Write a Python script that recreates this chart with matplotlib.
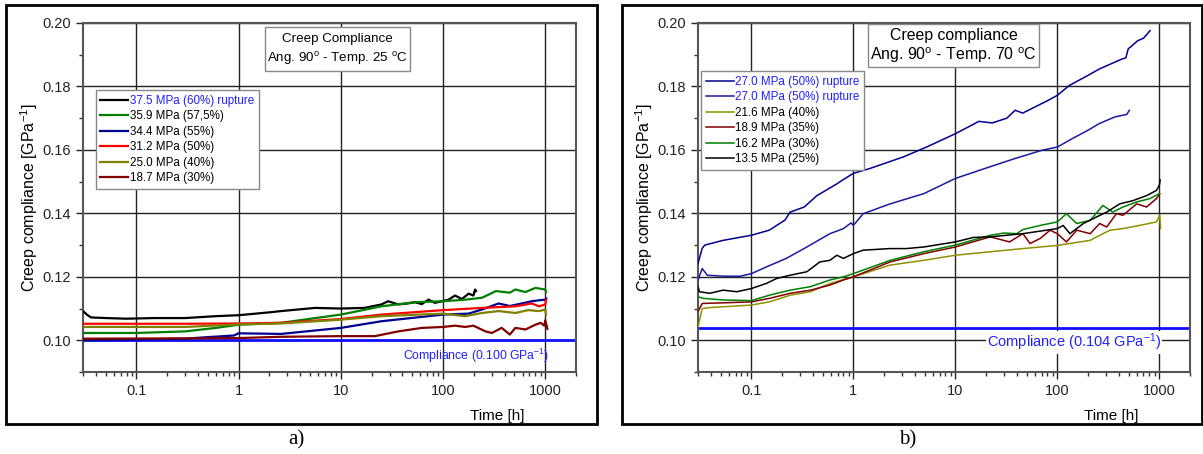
import matplotlib
matplotlib.use('Agg')
import matplotlib.pyplot as plt
from matplotlib.patches import Rectangle
from matplotlib.ticker import MultipleLocator, LogLocator, FixedLocator, NullFormatter

plt.rcParams['font.family'] = ['Liberation Sans', 'DejaVu Sans']
plt.rcParams['mathtext.fontset'] = 'custom'
plt.rcParams['mathtext.rm'] = 'Liberation Sans'
plt.rcParams['mathtext.it'] = 'Liberation Sans:italic'

# ---- panel a) 25 C ----
a_375_t = [0.03, 0.033, 0.036, 0.05, 0.08, 0.15, 0.3, 0.6, 1, 2, 2.6, 5.6, 10, 17, 25, 29, 36.5, 45, 53, 62, 72, 83, 95, 113, 131, 153, 178, 198, 206, 210]
a_375_c = [0.1092, 0.1080, 0.1072, 0.1070, 0.1068, 0.1070, 0.1070, 0.1076, 0.1079, 0.1088, 0.1092, 0.1102, 0.1100, 0.1102, 0.1113, 0.1123, 0.1113, 0.1116, 0.1120, 0.1114, 0.1128, 0.1118, 0.1122, 0.1128, 0.1141, 0.1130, 0.1147, 0.1141, 0.1160, 0.1155]
a_359_t = [0.03, 0.1, 0.3, 0.6, 1, 2.6, 10, 25, 53, 100, 165, 240, 330, 450, 510, 640, 800, 1000, 1020]
a_359_c = [0.1023, 0.1023, 0.1028, 0.1039, 0.1049, 0.1055, 0.1081, 0.1107, 0.1120, 0.1123, 0.1128, 0.1134, 0.1155, 0.1150, 0.1160, 0.1152, 0.1165, 0.1160, 0.1152]
a_344_t = [0.03, 0.3, 0.5, 0.9, 1, 2.6, 10, 25, 100, 178, 240, 350, 450, 590, 740, 870, 1000, 1020]
a_344_c = [0.1000, 0.1005, 0.1010, 0.1015, 0.1022, 0.1020, 0.1039, 0.1060, 0.1081, 0.1084, 0.1097, 0.1116, 0.1108, 0.1116, 0.1123, 0.1126, 0.1128, 0.1132]
a_312_t = [0.03, 0.3, 1, 2.6, 10, 25, 100, 240, 510, 740, 870, 1000, 1020]
a_312_c = [0.1052, 0.1052, 0.1053, 0.1055, 0.1067, 0.1081, 0.1095, 0.1102, 0.1107, 0.1116, 0.1107, 0.1113, 0.1128]
a_250_t = [0.03, 0.3, 1, 2.6, 10, 25, 100, 165, 240, 350, 510, 680, 870, 1000, 1020]
a_250_c = [0.1042, 0.1042, 0.1050, 0.1053, 0.1065, 0.1076, 0.1084, 0.1076, 0.1086, 0.1092, 0.1086, 0.1095, 0.1092, 0.1097, 0.1081]
a_187_t = [0.03, 0.3, 1, 2.6, 10, 21.5, 36.5, 62, 100, 131, 165, 198, 260, 300, 375, 450, 510, 640, 800, 900, 980, 1000, 1050]
a_187_c = [0.1005, 0.1006, 0.1007, 0.1011, 0.1013, 0.1013, 0.1028, 0.1039, 0.1042, 0.1046, 0.1042, 0.1046, 0.1028, 0.1023, 0.1039, 0.1018, 0.1039, 0.1034, 0.1049, 0.1055, 0.1046, 0.1063, 0.1036]
a_labels = ['37.5 MPa (60%) rupture', '35.9 MPa (57,5%)', '34.4 MPa (55%)',
            '31.2 MPa (50%)', '25.0 MPa (40%)', '18.7 MPa (30%)']
a_limit = 0.100

# ---- panel b) 70 C ----
b_270r1_t = [0.03, 0.033, 0.035, 0.053, 0.1, 0.15, 0.214, 0.24, 0.33, 0.44, 0.51, 0.69, 0.785, 1, 1.44, 3.1, 5.3, 10, 14.9, 17, 23, 32, 38.6, 45.8, 60, 80, 100, 131, 200, 258, 434, 470, 495, 613, 700, 813]
b_270r1_c = [0.1242, 0.1290, 0.1300, 0.1315, 0.1331, 0.1347, 0.1379, 0.1404, 0.1420, 0.1456, 0.1468, 0.1493, 0.1505, 0.1526, 0.1541, 0.1578, 0.1610, 0.1651, 0.1680, 0.1690, 0.1685, 0.1700, 0.1725, 0.1716, 0.1735, 0.1755, 0.1772, 0.1803, 0.1835, 0.1855, 0.1887, 0.1890, 0.1918, 0.1944, 0.1952, 0.1976]
b_270r2_t = [0.03, 0.033, 0.037, 0.053, 0.078, 0.1, 0.14, 0.22, 0.35, 0.59, 0.8, 0.95, 1, 1.25, 2.3, 4.9, 10, 19.3, 38.6, 71, 100, 141, 200, 258, 367, 480, 509]
b_270r2_c = [0.1190, 0.1226, 0.1205, 0.1202, 0.1202, 0.1210, 0.1231, 0.1258, 0.1294, 0.1336, 0.1352, 0.1370, 0.1362, 0.1399, 0.1430, 0.1462, 0.1510, 0.1541, 0.1573, 0.1599, 0.1609, 0.1636, 0.1662, 0.1683, 0.1704, 0.1712, 0.1725]
b_216_t = [0.03, 0.033, 0.039, 0.1, 0.15, 0.24, 0.38, 0.59, 1, 2.3, 4.9, 10, 22, 46, 100, 210, 280, 330, 440, 640, 935, 1010, 1030]
b_216_c = [0.1043, 0.1100, 0.1103, 0.1111, 0.1121, 0.1142, 0.1153, 0.1179, 0.1200, 0.1237, 0.1252, 0.1268, 0.1279, 0.1289, 0.1299, 0.1315, 0.1336, 0.1347, 0.1352, 0.1362, 0.1373, 0.1394, 0.1352]
b_189_t = [0.03, 0.033, 0.053, 0.1, 0.15, 0.24, 0.38, 0.59, 0.8, 1, 2.3, 4.9, 10, 22, 34, 46, 54, 68, 85, 100, 123, 155, 210, 260, 305, 380, 440, 600, 750, 935, 1010]
b_189_c = [0.1090, 0.1116, 0.1118, 0.1121, 0.1132, 0.1148, 0.1158, 0.1174, 0.1190, 0.1200, 0.1247, 0.1273, 0.1294, 0.1326, 0.1310, 0.1336, 0.1305, 0.1321, 0.1347, 0.1336, 0.1310, 0.1347, 0.1336, 0.1368, 0.1357, 0.1399, 0.1394, 0.1430, 0.1420, 0.1446, 0.1462]
b_162_t = [0.03, 0.034, 0.053, 0.1, 0.15, 0.24, 0.38, 0.59, 0.8, 1, 2.3, 4.9, 10, 22, 30, 40, 46, 68, 100, 123, 155, 210, 280, 350, 440, 600, 800, 1000]
b_162_c = [0.1137, 0.1132, 0.1127, 0.1125, 0.1142, 0.1158, 0.1169, 0.1190, 0.1200, 0.1210, 0.1252, 0.1279, 0.1300, 0.1331, 0.1338, 0.1336, 0.1349, 0.1362, 0.1373, 0.1399, 0.1368, 0.1378, 0.1425, 0.1404, 0.1420, 0.1436, 0.1446, 0.1462]
b_135_t = [0.03, 0.031, 0.039, 0.053, 0.072, 0.1, 0.14, 0.178, 0.24, 0.35, 0.47, 0.59, 0.69, 0.8, 1, 1.25, 2.29, 3.3, 4.9, 10, 15, 22, 46, 100, 114, 133, 180, 240, 305, 410, 550, 750, 935, 1000, 1020]
b_135_c = [0.1169, 0.1153, 0.1148, 0.1158, 0.1153, 0.1163, 0.1179, 0.1195, 0.1205, 0.1216, 0.1247, 0.1252, 0.1268, 0.1258, 0.1273, 0.1284, 0.1289, 0.1289, 0.1294, 0.1310, 0.1324, 0.1326, 0.1336, 0.1352, 0.1362, 0.1336, 0.1368, 0.1388, 0.1404, 0.1430, 0.1440, 0.1456, 0.1472, 0.1488, 0.1505]
b_labels = ['27.0 MPa (50%) rupture', '27.0 MPa (50%) rupture', '21.6 MPa (40%)',
            '18.9 MPa (35%)', '16.2 MPa (30%)', '13.5 MPa (25%)']
b_limit = 0.104

fig = plt.figure(figsize=(12.03, 4.54), dpi=100)


def setup_axes(ax):
  ax.set_xscale('log')
  ax.set_xlim(0.03, 2000)
  ax.set_ylim(0.09, 0.20)
  ax.xaxis.set_major_locator(FixedLocator([0.1, 1, 10, 100, 1000]))
  ax.set_xticklabels(['0.1', '1', '10', '100', '1000'])
  ax.xaxis.set_minor_locator(LogLocator(base=10, subs=range(2, 10)))
  ax.xaxis.set_minor_formatter(NullFormatter())
  ax.yaxis.set_major_locator(FixedLocator([0.10, 0.12, 0.14, 0.16, 0.18, 0.20]))
  ax.set_yticklabels(['0.10', '0.12', '0.14', '0.16', '0.18', '0.20'])
  ax.yaxis.set_minor_locator(MultipleLocator(0.01))
  ax.tick_params(which='major', direction='out', length=5, width=1, labelsize=10.5, colors='#222222')
  ax.tick_params(which='minor', direction='out', length=3, width=1, colors='#333333')
  ax.grid(True, which='major', color='#222222', lw=1)
  for s in ax.spines.values():
    s.set_color('#555555')
    s.set_linewidth(1.5)
  ax.set_ylabel('Creep compliance [GPa$^{-1}$]', fontsize=11.5, labelpad=2)
  ax.set_xlabel('Time [h]', fontsize=11, x=0.84, labelpad=8)


def info_box(ax, x0, x1, y0, y1, line1, line2, fs):
  ax.add_patch(Rectangle((x0, y0), x1 - x0, y1 - y0, transform=ax.transAxes,
                         facecolor='white', edgecolor='#888888', lw=1, zorder=5))
  xc = (x0 + x1) / 2
  h = y1 - y0
  ax.text(xc, y1 - 0.27 * h, line1, transform=ax.transAxes, ha='center', va='center', fontsize=fs, zorder=6)
  ax.text(xc, y0 + 0.28 * h, line2, transform=ax.transAxes, ha='center', va='center', fontsize=fs, zorder=6)


# panel a
ax1 = fig.add_axes([83/1203, 1-372/454, 493/1203, 349/454])
setup_axes(ax1)
ax1.axhline(a_limit, color='#1010ff', lw=2, zorder=2)
a_series = [(a_375_t, a_375_c, '#000000'), (a_359_t, a_359_c, '#008000'),
            (a_344_t, a_344_c, '#000090'), (a_312_t, a_312_c, '#ff0000'),
            (a_250_t, a_250_c, '#808000'), (a_187_t, a_187_c, '#800000')]
for (t, c, col), lab in zip(a_series, a_labels):
  ax1.plot(t, c, color=col, lw=1.6, label=lab, zorder=3)
leg = ax1.legend(loc='upper left', bbox_to_anchor=(0.026, 0.808), fontsize=8.4, frameon=True,
                 fancybox=False, edgecolor='#888888', framealpha=1, handlelength=2.4,
                 handletextpad=0.1, labelspacing=0.3, borderpad=0.4, borderaxespad=0)
leg.get_frame().set_linewidth(1)
leg.get_texts()[0].set_color('#2020ff')
ax1.text(0.797, 0.095, 'Compliance (0.100 GPa$^{-1}$)', transform=ax1.get_yaxis_transform(),
         ha='center', va='center', color='#2020ff', fontsize=8.8)
info_box(ax1, 0.369, 0.663, 0.862, 0.989, 'Creep Compliance',
         r'Ang. 90$^{\rm o}$ - Temp. 25 $^{\rm o}$C', 9.6)

# panel b
ax2 = fig.add_axes([698/1203, 1-372/454, 492/1203, 349/454])
setup_axes(ax2)
ax2.axhline(b_limit, color='#1010ff', lw=2, zorder=2)
b_series = [(b_270r1_t, b_270r1_c, '#000090'), (b_270r2_t, b_270r2_c, '#1a1aa0'),
            (b_216_t, b_216_c, '#909000'), (b_189_t, b_189_c, '#800000'),
            (b_162_t, b_162_c, '#008000'), (b_135_t, b_135_c, '#000000')]
for (t, c, col), lab in zip(b_series, b_labels):
  ax2.plot(t, c, color=col, lw=1.1, label=lab, zorder=3)
leg = ax2.legend(loc='upper left', bbox_to_anchor=(0.006, 0.862), fontsize=8.4, frameon=True,
                 fancybox=False, edgecolor='#888888', framealpha=1, handlelength=2.4,
                 handletextpad=0.1, labelspacing=0.3, borderpad=0.4, borderaxespad=0)
leg.get_frame().set_linewidth(1)
leg.get_texts()[0].set_color('#2020ff')
leg.get_texts()[1].set_color('#2020ff')
ax2.text(0.764, 0.0994, 'Compliance (0.104 GPa$^{-1}$)', transform=ax2.get_yaxis_transform(),
         ha='center', va='center', color='#2020ff', fontsize=10.5, zorder=4,
         bbox=dict(facecolor='white', edgecolor='none', pad=0.5))
info_box(ax2, 0.346, 0.693, 0.874, 0.997, 'Creep compliance',
         r'Ang. 90$^{\rm o}$ - Temp. 70 $^{\rm o}$C', 11.4)

# outer frames and panel letters
fig.patches.append(Rectangle((6/1203, 1-424/454), 591/1203, 419/454, transform=fig.transFigure,
                             fill=False, edgecolor='black', lw=2))
fig.patches.append(Rectangle((622/1203, 1-424/454), 580/1203, 419/454, transform=fig.transFigure,
                             fill=False, edgecolor='black', lw=2))
fig.text(296/1203, 1-440/454, 'a)', ha='center', va='center', fontsize=15, family='Liberation Serif')
fig.text(908/1203, 1-440/454, 'b)', ha='center', va='center', fontsize=15, family='Liberation Serif')

fig.savefig('out.png', dpi=100)
